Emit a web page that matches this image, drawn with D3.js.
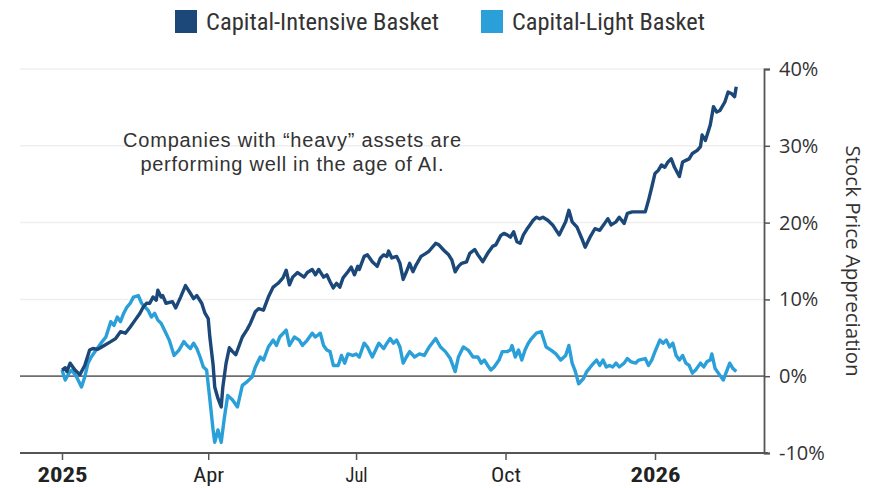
<!DOCTYPE html>
<html>
<head>
<meta charset="utf-8">
<script src="https://cdn.jsdelivr.net/npm/d3@7"></script>
<style>
  body { margin: 0; background: #fff; }
  svg { display: block; }
</style>
</head>
<body>
<svg id="chart" width="879" height="488"></svg>
<script>
// data: day offset from 1 Jan 2025, value in %
const seriesNames = ["Capital-Intensive Basket", "Capital-Light Basket"];
const seriesColors = ["#1b4878", "#2a9fd8"];

const heavyDays = [0,2,3,5,8,11,14,17,19,22,26,30,33,36,39,42,45,48,50,52,54,56,58,59,61,62,64,68,70,73,76,79,81,83,86,88,90,91,93,94,96,98,99,101,103,105,107,111,114,116,119,121,124,127,130,133,136,138,140,142,145,149,151,154,156,158,161,163,165,167,169,171,173,176,178,180,182,183,186,188,191,194,196,198,200,201,203,206,208,210,212,214,216,218,221,224,226,230,232,235,238,240,242,244,246,249,251,254,256,259,262,265,267,270,272,274,276,278,280,282,284,286,288,290,292,294,296,299,302,306,310,312,314,317,320,322,325,328,331,334,336,338,341,343,346,348,351,355,359,361,363,365,367,369,371,373,375,377,380,382,384,386,388,391,393,394,396,399,401,403,405,408,410,412,414,415];
const heavyVals = [0.8,1.1,0.6,1.7,0.8,0.2,1.4,3.4,3.6,3.5,4.0,4.5,4.9,5.8,5.6,6.4,7.3,8.2,9.0,9.5,9.5,10.3,9.9,11.2,10.3,10.5,9.5,9.7,8.9,10.3,11.8,10.8,10.1,10.5,9.5,8.2,7.5,5.1,1.5,-1.4,-2.9,-4.0,-1.4,1.7,3.7,3.2,2.8,5.1,6.1,6.9,8.4,8.8,8.6,10.3,11.6,12.1,12.8,13.8,11.9,12.9,13.5,12.9,13.5,13.9,13.2,13.9,12.9,13.2,12.3,11.5,12.1,11.6,12.8,13.6,14.2,13.2,14.3,13.9,15.6,15.8,14.9,14.3,15.4,15.8,15.6,16.3,15.4,15.6,14.7,12.6,13.6,14.7,13.6,14.5,15.6,16.0,16.3,17.3,17.1,16.4,15.8,15.1,13.6,14.3,14.7,14.9,16.0,16.5,15.8,14.9,16.0,16.9,17.1,18.3,18.6,18.4,18.1,18.8,17.5,17.3,18.4,19.1,19.7,20.3,20.7,20.5,20.7,20.3,19.7,18.4,20.1,21.6,20.1,19.4,17.9,16.8,18.1,19.2,19.0,19.9,20.5,19.7,20.1,20.7,19.9,21.2,21.4,21.4,21.4,22.9,24.6,26.4,26.8,27.5,27.2,27.9,28.3,27.2,26.0,27.9,28.1,28.3,29.0,29.4,29.9,31.4,30.7,32.7,35.1,34.4,34.6,35.7,37.0,36.8,36.4,37.7];

const lightDays = [0,2,4,6,9,12,14,16,18,21,24,27,30,32,34,36,38,40,42,44,47,49,51,53,55,57,59,61,64,66,69,72,75,77,79,81,83,85,87,89,91,93,94,96,98,100,102,105,108,111,114,117,119,122,124,127,130,132,134,138,140,143,146,148,151,154,156,159,161,163,165,167,170,172,174,176,179,181,183,186,188,191,195,198,200,202,204,206,208,210,212,214,217,220,223,226,230,233,236,239,242,244,247,250,253,256,258,260,262,264,266,269,271,274,276,277,279,281,283,285,287,289,292,295,298,301,304,307,310,312,314,316,318,321,323,326,329,331,333,335,337,339,341,343,346,348,350,353,355,359,361,363,365,368,370,372,374,376,378,380,382,384,386,388,390,393,395,397,399,400,402,404,407,409,411,413,415];
const lightVals = [0.8,-0.5,0.3,0.8,-0.1,-1.4,-0.1,1.7,2.5,3.4,4.3,5.1,7.1,6.6,7.7,7.1,8.2,9.0,9.5,10.3,10.5,9.5,9.0,8.6,7.7,8.2,7.3,6.9,5.6,4.7,2.7,3.4,4.5,4.0,3.6,4.3,3.6,2.5,1.2,0.8,-3.0,-7.0,-8.6,-7.0,-8.6,-5.3,-2.5,-3.1,-4.0,-1.2,-0.7,-0.1,1.2,2.5,2.1,3.8,4.7,4.0,5.1,6.0,4.0,5.1,4.7,4.0,4.7,5.6,5.1,5.6,4.0,3.4,3.2,1.4,1.4,2.7,1.7,2.9,2.7,2.9,2.5,4.3,3.8,2.5,4.3,3.6,4.3,4.9,4.3,4.7,3.8,1.7,2.5,3.2,2.5,2.9,2.7,3.8,4.9,3.8,3.2,2.3,0.6,2.5,3.8,3.4,2.5,2.5,1.7,2.1,1.4,0.8,1.2,2.1,3.2,3.2,3.4,4.0,2.5,3.4,2.1,3.4,4.3,4.9,5.6,5.8,3.8,3.4,2.9,2.1,2.7,4.0,1.7,0.6,-1.0,-0.3,0.6,1.4,2.1,1.4,2.1,1.2,1.4,1.2,1.7,1.2,1.7,2.3,1.9,1.7,2.1,2.3,1.4,2.1,3.2,4.7,4.3,4.7,3.8,4.3,2.7,2.1,2.7,1.7,1.4,0.4,0.8,1.7,1.2,1.9,2.1,2.9,1.0,0.4,-0.5,0.6,1.7,1.0,0.6];

const yTicks = [-10, 0, 10, 20, 30, 40];
const xTickDates = ["2025-01-01", "2025-04-01", "2025-07-01", "2025-10-01", "2026-01-01"];
const xTickLabels = ["2025", "Apr", "Jul", "Oct", "2026"];
const note = ["Companies with \u201cheavy\u201d assets are", "performing well in the age of AI."];

const narrow = "'Liberation Sans Narrow', 'Roboto Condensed', 'Arial Narrow', Roboto, sans-serif";
const plain = "'Open Sans', 'Liberation Sans', Arial, sans-serif";

const svg = d3.select("#chart");
const start = new Date(2025, 0, 1);
const toSeries = (days, vals) => days.map((d, i) => ({date: d3.timeDay.offset(start, d), v: vals[i]}));
const series = [toSeries(heavyDays, heavyVals), toSeries(lightDays, lightVals)];

const x = d3.scaleTime().domain([start, new Date(2026, 0, 1)]).range([62, 655]);
const y = d3.scaleLinear().domain([-10, 40]).range([453, 69]);
const axisX = 764, leftEdge = 20;

// gridlines
svg.append("g").selectAll("line")
  .data(yTicks.filter(t => t > 0))
  .join("line")
    .attr("x1", leftEdge).attr("x2", axisX)
    .attr("y1", d => y(d)).attr("y2", d => y(d))
    .attr("stroke", "#efefef").attr("stroke-width", 1.5);

// zero line
svg.append("line")
  .attr("x1", leftEdge).attr("x2", axisX)
  .attr("y1", y(0)).attr("y2", y(0))
  .attr("stroke", "#6e6e6e").attr("stroke-width", 1.8);

// lines, light one underneath
const line = d3.line().x(d => x(d.date)).y(d => y(d.v));
[1, 0].forEach(i => {
  svg.append("path")
    .datum(series[i])
    .attr("fill", "none")
    .attr("stroke", seriesColors[i])
    .attr("stroke-width", 3.4)
    .attr("stroke-linejoin", "round")
    .attr("d", line);
});

// right axis
const yAxis = svg.append("g")
  .attr("transform", `translate(${axisX},0)`)
  .call(d3.axisRight(y).tickValues(yTicks).tickSize(6).tickPadding(9).tickFormat(d => d + "%"));
yAxis.select(".domain").attr("stroke", "#555").attr("stroke-width", 1.8);
yAxis.selectAll(".tick line").attr("stroke", "#555").attr("stroke-width", 1.5);
yAxis.selectAll("text").attr("font-family", plain).attr("font-size", 20).attr("fill", "#333");

svg.append("text")
  .attr("transform", `translate(851,${y(15)}) rotate(90)`)
  .attr("text-anchor", "middle")
  .attr("dominant-baseline", "middle")
  .attr("font-family", plain).attr("font-size", 20.5).attr("fill", "#333")
  .text("Stock Price Appreciation");

// bottom axis
const xAxis = svg.append("g")
  .attr("transform", `translate(0,${y(-10)})`)
  .call(d3.axisBottom(x).tickValues(xTickDates.map(d => d3.timeParse("%Y-%m-%d")(d)))
    .tickSize(7).tickPadding(7).tickFormat((d, i) => xTickLabels[i]));
xAxis.select(".domain").attr("d", `M${leftEdge},0H${axisX + 4}`)
  .attr("stroke", "#555").attr("stroke-width", 2);
xAxis.selectAll(".tick line").attr("stroke", "#555").attr("stroke-width", 1.5);
xAxis.selectAll("text")
  .attr("font-family", narrow).attr("font-size", 21).attr("fill", "#222")
  .attr("font-weight", (d, i) => i === 0 || i === 4 ? "bold" : "normal")
  .attr("textLength", (d, i) => [50, 31, 22, 30, 50][i])
  .attr("lengthAdjust", "spacingAndGlyphs");

// legend
const legend = svg.append("g").attr("transform", "translate(175,10)");
const legX = [0, 306];
const legW = [233, 193];
seriesNames.forEach((name, i) => {
  const g = legend.append("g").attr("transform", `translate(${legX[i]},0)`);
  g.append("rect").attr("width", 22).attr("height", 23).attr("fill", seriesColors[i]);
  g.append("text")
    .attr("x", 31).attr("y", 12).attr("dominant-baseline", "central")
    .attr("font-family", narrow).attr("font-size", 23).attr("fill", "#333")
    .attr("textLength", legW[i]).attr("lengthAdjust", "spacingAndGlyphs")
    .text(name);
});

// annotation, widened slightly to the reference's line width
const noteText = svg.append("g").selectAll("text")
  .data(note)
  .join("text")
    .attr("x", 292).attr("y", (d, i) => 147 + i * 23.5)
    .attr("text-anchor", "middle")
    .attr("font-family", "'Liberation Sans', Arial, sans-serif")
    .attr("font-size", 20).attr("fill", "#333")
    .text(d => d);
const k = 338 / noteText.nodes()[0].getComputedTextLength();
noteText.each(function() {
  d3.select(this).attr("textLength", this.getComputedTextLength() * k).attr("lengthAdjust", "spacing");
});
</script>
</body>
</html>
